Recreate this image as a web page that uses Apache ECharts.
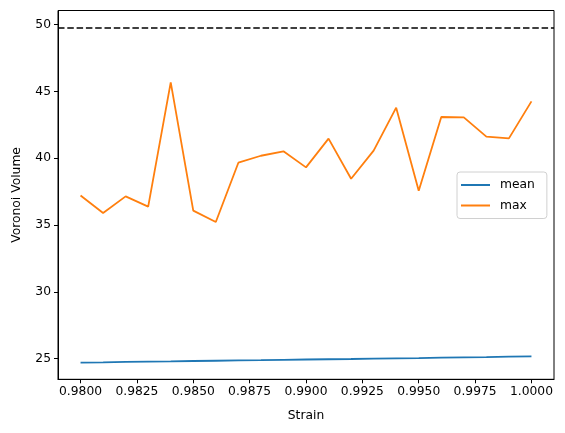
<!DOCTYPE html>
<html><head><meta charset="utf-8">
<script src="https://cdn.jsdelivr.net/npm/echarts@6/dist/echarts.min.js"></script>
<style>html,body{margin:0;padding:0;background:#fff}#c{width:565px;height:433px}</style>
</head><body><div id="c"></div>
<script>
const strain = [0.980,0.981,0.982,0.983,0.984,0.985,0.986,0.987,0.988,0.989,0.990,0.991,0.992,0.993,0.994,0.995,0.996,0.997,0.998,0.999,1.000];
const meanVals = [24.71,24.73,24.76,24.78,24.80,24.83,24.85,24.87,24.89,24.92,24.94,24.96,24.98,25.01,25.03,25.05,25.08,25.10,25.12,25.15,25.17];
const maxVals = [37.22,35.90,37.15,36.38,45.68,36.08,35.23,39.67,40.19,40.52,39.32,41.47,38.47,40.57,43.79,37.57,43.09,43.06,41.62,41.49,44.26];
const refLine = 49.8;
const xTicks = [0.98,0.9825,0.985,0.9875,0.99,0.9925,0.995,0.9975,1.0];
const yTicks = [25,30,35,40,45,50];

const font = 'DejaVu Sans';
const fs = 12.3;
const chart = echarts.init(document.getElementById('c'), null, {renderer:'canvas'});
chart.setOption({
  animation:false,
  textStyle:{fontFamily:font},
  grid:{left:58,right:11,top:10.5,bottom:53.7,show:true,borderColor:'#000',borderWidth:1},
  xAxis:{type:'value',min:0.979,max:1.001,
    name:'Strain',nameLocation:'middle',nameGap:31,
    nameTextStyle:{fontFamily:font,fontSize:fs,color:'#000'},
    axisLine:{show:true,lineStyle:{color:'#000',width:1}},
    axisTick:{show:true,customValues:xTicks,length:4,lineStyle:{color:'#000'}},
    axisLabel:{customValues:xTicks,fontFamily:font,fontSize:fs,color:'#000',margin:7,
      formatter:v=>v.toFixed(4)},
    splitLine:{show:false}},
  yAxis:{type:'value',min:23.46,max:51.06,
    name:'Voronoi Volume',nameLocation:'middle',nameGap:35,nameRotate:90,
    nameTextStyle:{fontFamily:font,fontSize:fs,color:'#000'},
    axisLine:{show:true,lineStyle:{color:'#000',width:1}},
    axisTick:{show:true,customValues:yTicks,length:4,lineStyle:{color:'#000'}},
    axisLabel:{customValues:yTicks,fontFamily:font,fontSize:fs,color:'#000',margin:7},
    splitLine:{show:false}},
  legend:{left:457,top:172,orient:'vertical',
    data:[{name:'mean',icon:'rect'},{name:'max',icon:'rect'}],
    itemWidth:29,itemHeight:2,itemGap:8.5,
    textStyle:{fontFamily:font,fontSize:fs,color:'#000',padding:[0,0,0,5]},
    borderColor:'#d0d0d0',borderWidth:1,borderRadius:3,
    padding:[7,12,7,4],backgroundColor:'rgba(255,255,255,0.8)'},
  series:[
    {name:'mean',type:'line',data:strain.map((x,i)=>[x,meanVals[i]]),
      showSymbol:false,symbol:'none',lineStyle:{color:'#1f77b4',width:1.8},itemStyle:{color:'#1f77b4'},
      markLine:{silent:true,symbol:['none','none'],label:{show:false},
        lineStyle:{color:'#000',type:[6.5,2.8],width:1.7},data:[{yAxis:refLine}]}},
    {name:'max',type:'line',data:strain.map((x,i)=>[x,maxVals[i]]),
      showSymbol:false,symbol:'none',lineStyle:{color:'#ff7f0e',width:1.8},itemStyle:{color:'#ff7f0e'}}
  ]
});
</script></body></html>
